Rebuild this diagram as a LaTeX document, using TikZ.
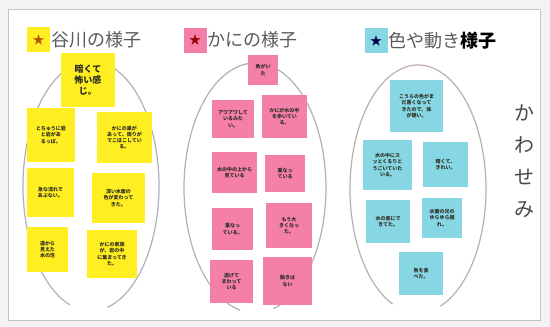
\documentclass[tikz,border=0pt]{standalone}
\usepackage{fontspec}
\newfontfamily\jp{Noto Sans CJK JP}
\definecolor{ynote}{HTML}{FFEE22}
\definecolor{pnote}{HTML}{F47FA8}
\definecolor{cnote}{HTML}{86D6E4}
\definecolor{headgray}{HTML}{5A5A5A}
\definecolor{ellc}{HTML}{AEB0BE}
\definecolor{ellc2}{HTML}{BEAEAE}
\definecolor{framec}{HTML}{C4C4C4}
\definecolor{bgc}{HTML}{F3F3F3}
\definecolor{notetext}{HTML}{2E2E22}
\tikzset{
  note/.style={inner sep=1pt, align=center, text=notetext, font=\jp\bfseries\fontsize{5}{6.2}\selectfont},
  yn/.style={note, fill=ynote},
  pn/.style={note, fill=pnote},
  cn/.style={note, fill=cnote},
  sz/.style 2 args={minimum width=#1pt, minimum height=#2pt, text width=#1pt-4pt},
  starbox/.style={inner sep=0pt, minimum width=23pt, minimum height=25pt, font=\jp\bfseries\fontsize{12}{12}\selectfont},
  head/.style={anchor=west, inner sep=1pt, text=headgray, font=\jp\fontsize{18}{18}\selectfont},
  ell/.style={draw=ellc, line width=1.2pt},
}
\begin{document}
\begin{tikzpicture}[x=1pt, y=-1pt]
\useasboundingbox (0,0) rectangle (550,327);
\fill[bgc] (0,0) rectangle (550,327);
\fill[white] (8,9) rectangle (540,320);
\draw[framec, line width=1pt] (8,9) rectangle (540,320);

% ellipses with a small gap at the bottom
\draw[ell] (91,186) ++(-76:68pt and 125pt) arc[start angle=-76, end angle=252, x radius=68pt, y radius=125pt];
\draw[ell] (255,188) ++(-75:71pt and 125pt) arc[start angle=-75, end angle=258, x radius=71pt, y radius=125pt];
\draw[ell, draw=ellc2] (418,189) ++(-71:68pt and 124pt) arc[start angle=-71, end angle=248, x radius=68pt, y radius=124pt];

% headings
\node[starbox, fill=ynote, text=orange!70!black] (ys) at (38.5,39.5) {★};
\node[head] (yh) at (ys.east) {谷川の様子};
\node[starbox, fill=pnote, text=red!60!black] (ps) at (195,40) {★};
\node[head] (ph) at (ps.east) {かにの様子};
\node[starbox, fill=cnote, text=blue!30!black] (cs) at (376,40.5) {★};
\node[head] (ch) at (cs.east) {色や動き{\color{black}\bfseries 様子}};

% yellow notes
\node[yn, sz={54}{54}, font=\jp\bfseries\fontsize{9}{11}\selectfont] (yt) at (88,80) {暗くて\\怖い感\\じ。};
\node[yn, sz={48}{54}] (y1) at (51,135) {とちゅうに岩\\と岩があ\\るっぽ。};
\node[yn, sz={55}{51}] (y2) at (124.5,137.5) {かにの巣が\\あって、周りが\\でこぼこしてい\\る。};
\node[yn, sz={47}{49}] (y3) at (50.5,192.5) {急な流れで\\あぶない。};
\node[yn, sz={53}{50}] (y4) at (118.5,198) {深い水面の\\色が変わって\\きた。};
\node[yn, sz={41}{45}] (y5) at (47.5,249.5) {遠から\\見えた\\水の泡};
\node[yn, sz={50}{48}] (y6) at (112,254) {かにの家族\\が、岩の中\\に集まってき\\た。};

% pink notes
\node[pn, sz={30}{30}] (pt) at (263,70) {魚がい\\た};
\node[pn, sz={42}{38}] (p1) at (233,119) {アワアワして\\いるみた\\い。};
\node[pn, sz={45}{43}] (p2) at (284.5,116.5) {かにが水の中\\を歩いてい\\る。};
\node[pn, sz={45}{41}] (p3) at (234.5,172.5) {水の中の上から\\見ている};
\node[pn, sz={40}{37}] (p4) at (285,173.5) {重なっ\\ている};
\node[pn, sz={41}{42}] (p5) at (232.5,229) {重なっ\\ている。};
\node[pn, sz={46}{45}] (p6) at (289,225.5) {もう大\\きくなっ\\た。};
\node[pn, sz={43}{43}] (p7) at (231.5,281.5) {逃げて\\まわって\\いる};
\node[pn, sz={49}{48}] (p8) at (287.5,281) {動きは\\ない};

% cyan notes
\node[cn, sz={53}{52}] (ct) at (416.5,106) {こうらの色がま\\だ黒くなって\\きたので、体\\が硬い。};
\node[cn, sz={49}{50}] (c1) at (387.5,165) {水の中にス\\ッとくるりと\\うごいていた\\いる。};
\node[cn, sz={45}{45}] (c2) at (445.5,164.5) {暗くて、\\きれい。};
\node[cn, sz={44}{43}] (c3) at (388,221.5) {水の底にで\\きてた。};
\node[cn, sz={40}{40}] (c4) at (442,218) {水面の光の\\ゆらゆら揺\\れ。};
\node[cn, sz={44}{43}] (c5) at (421,273.5) {魚を食\\べた。};

% kawasemi
\node[inner sep=0pt, align=center, text=headgray!80!black, font=\jp\fontsize{20}{32}\selectfont] (kw) at (524,161) {か\\わ\\せ\\み};
\end{tikzpicture}
\end{document}
